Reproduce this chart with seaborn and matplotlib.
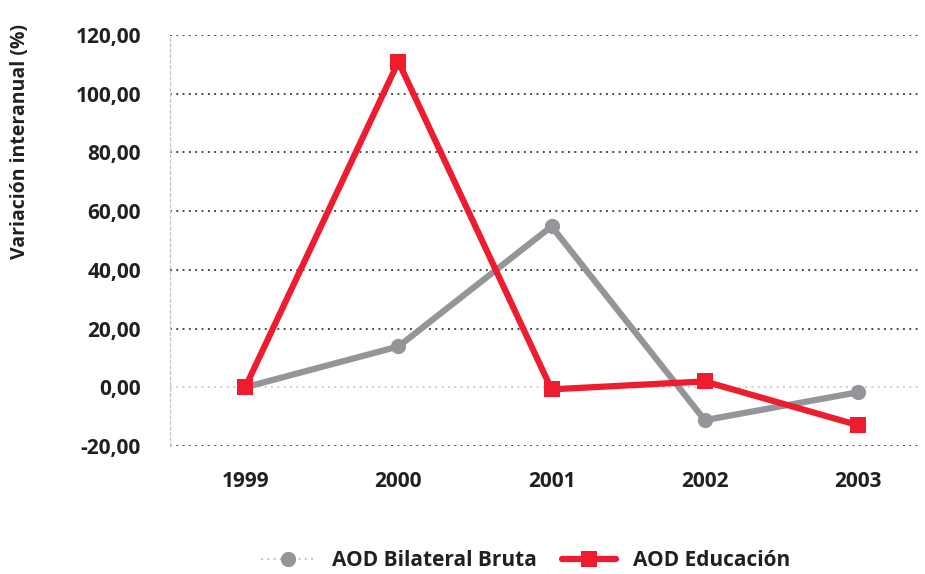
import seaborn as sns
import matplotlib.pyplot as plt
import pandas as pd
from matplotlib.lines import Line2D
from matplotlib.ticker import FuncFormatter

# Datos
years = ['1999', '2000', '2001', '2002', '2003']
bilateral = [0.0, 13.9, 54.8, -11.2, -1.7]
educacion = [0.0, 110.9, -0.7, 2.0, -12.9]

sns.set_style("white")
plt.rcParams['font.family'] = ['Open Sans', 'DejaVu Sans']
plt.rcParams['font.weight'] = 'bold'

df = pd.DataFrame({'year': years, 'bilateral': bilateral, 'educacion': educacion})
df['pos'] = range(len(years))

fig = plt.figure(figsize=(9.25, 5.74), dpi=100)
ax = fig.add_axes([0.184, 0.223, 0.813, 0.716])

gray = '#939598'
red = '#ed1c2e'

sns.lineplot(data=df, x='pos', y='bilateral', ax=ax, color=gray, linewidth=4.5,
             marker='o', markersize=11, markeredgewidth=0, zorder=3)
sns.lineplot(data=df, x='pos', y='educacion', ax=ax, color=red, linewidth=4.5,
             marker='s', markersize=12, markeredgewidth=0, zorder=4)

ax.set_xlim(-0.49, 4.42)
ax.set_ylim(-20, 120)
ax.set_yticks(range(-20, 121, 20))
ax.set_xticks(df['pos'])
ax.set_xticklabels(years)
ax.yaxis.set_major_formatter(FuncFormatter(lambda v, p: f'{v:.2f}'.replace('.', ',')))

# rejilla punteada
for v in range(-20, 121, 20):
    if v == 0:
        ax.axhline(v, color='#c8c8c8', linestyle=(0, (1, 2.5)), linewidth=1.3, zorder=1)
    else:
        ax.axhline(v, color='#333333', linestyle=(0, (1, 2.5)), linewidth=1.3, zorder=1)

for s in ['top', 'right', 'bottom']:
    ax.spines[s].set_visible(False)
ax.spines['left'].set_color('#c8c8c8')
ax.spines['left'].set_linestyle((0, (2, 2)))
ax.spines['left'].set_linewidth(1)

ax.tick_params(axis='both', length=0, labelsize=15, colors='#231f20')
ax.tick_params(axis='y', pad=21)
ax.tick_params(axis='x', pad=18)
for lab in ax.get_xticklabels() + ax.get_yticklabels():
    lab.set_fontweight('bold')

ax.set_xlabel('')
ax.set_ylabel('Variación interanual (%)', fontsize=14, fontweight='bold', color='#231f20')
ax.yaxis.set_label_coords(-0.186, 0.74)

handles = [
    Line2D([], [], color='#c8c8c8', linestyle=(0, (1, 2)), linewidth=1.5,
           marker='o', markersize=11, markerfacecolor=gray, markeredgewidth=0),
    Line2D([], [], color=red, linewidth=4.5, marker='s', markersize=12, markeredgewidth=0),
]
fig.legend(handles, ['AOD Bilateral Bruta', 'AOD Educación'], loc='lower center',
           bbox_to_anchor=(0.568, -0.028), ncol=2, frameon=False, handlelength=2.6,
           columnspacing=1.2, prop={'size': 15, 'weight': 'bold'}, labelcolor='#231f20')

fig.savefig('out.png', dpi=100)
